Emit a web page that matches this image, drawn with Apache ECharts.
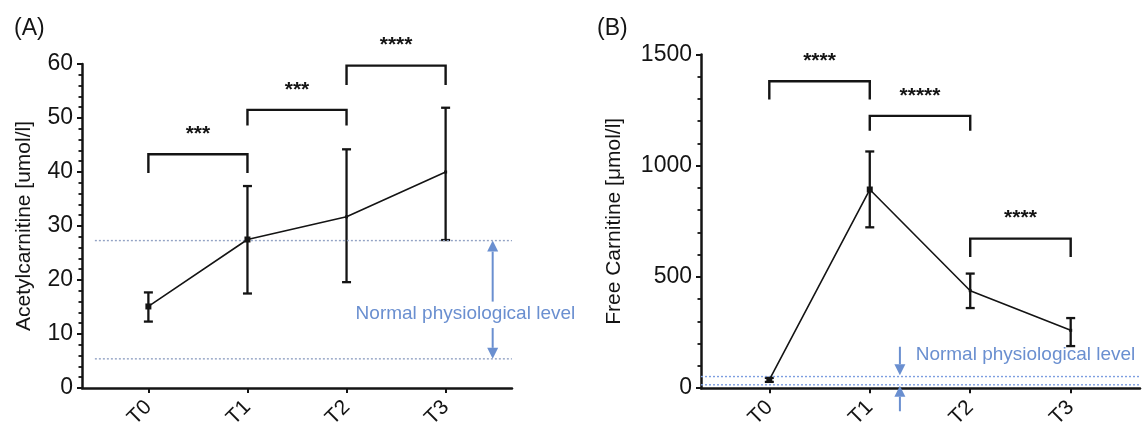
<!DOCTYPE html>
<html>
<head>
<meta charset="utf-8">
<script src="https://cdn.jsdelivr.net/npm/echarts@6/dist/echarts.min.js"></script>
<style>
html,body{margin:0;padding:0;background:#fff;}
#chart{width:1145px;height:431px;}
</style>
</head>
<body>
<div id="chart"></div>
<script>
// ---------- data ----------
const categories = ['T0', 'T1', 'T2', 'T3'];
const catIndex = [0, 1, 2, 3];

const acetylMean = [15.1, 27.5, 31.7, 40.0];
const acetylLow  = [12.3, 17.5, 19.6, 27.4];
const acetylHigh = [17.7, 37.4, 44.2, 51.9];
const acetylNormal = [5.4, 27.3];
const acetylTicks = [0, 10, 20, 30, 40, 50, 60];

const freeMean = [37, 893, 438, 260];
const freeLow  = [28, 723, 360, 189];
const freeHigh = [46, 1064, 515, 315];
const freeNormal = [15, 52];
const freeTicks = [0, 500, 1000, 1500];

// significance brackets: [from, to, top, leg end]
const acetylBrackets = [[0, 1, 43.3, 39.8], [1, 2, 51.5, 48.6], [2, 3, 59.7, 56.1]];
const acetylStars = ['***', '***', '****'];
const freeBrackets = [[0, 1, 1380, 1298], [1, 2, 1224, 1157], [2, 3, 672, 589]];
const freeStars = ['****', '*****', '****'];

const normalLabel = 'Normal physiological level';

// ---------- styles ----------
const FONT = '"Liberation Sans", Arial, Helvetica, sans-serif';
const INK = '#141414';
const BLUE = '#6a8fd0';

const chart = echarts.init(document.getElementById('chart'), null, {renderer: 'canvas'});

function meanData(arr) { return arr.map((v, i) => [catIndex[i], v]); }
function errData(lo, hi) { return lo.map((v, i) => [catIndex[i], v, hi[i]]); }

function errorRender(params, api) {
  const x = api.value(0);
  const a = api.coord([x, api.value(1)]);
  const b = api.coord([x, api.value(2)]);
  const cap = 4.5;
  const st = {stroke: INK, lineWidth: 2.3};
  return {type: 'group', children: [
    {type: 'line', shape: {x1: a[0], y1: a[1], x2: b[0], y2: b[1]}, style: st},
    {type: 'line', shape: {x1: a[0] - cap, y1: a[1], x2: a[0] + cap, y2: a[1]}, style: st},
    {type: 'line', shape: {x1: b[0] - cap, y1: b[1], x2: b[0] + cap, y2: b[1]}, style: st}
  ]};
}

function bracketRender(stars) {
  return function (params, api) {
    const x1 = api.value(0), x2 = api.value(1), top = api.value(2), leg = api.value(3);
    const p1 = api.coord([x1, leg]), p2 = api.coord([x1, top]);
    const p3 = api.coord([x2, top]), p4 = api.coord([x2, leg]);
    return {type: 'group', children: [
      {type: 'polyline', shape: {points: [p1, p2, p3, p4]},
        style: {stroke: INK, lineWidth: 2.4, fill: null}},
      {type: 'text', x: (p2[0] + p3[0]) / 2, y: p2[1] - 20,
        style: {text: stars[params.dataIndex], fill: INK, font: 'bold 21px ' + FONT,
          align: 'center', verticalAlign: 'middle'}}
    ]};
  };
}

function arrowRender(params, api) {
  const x = api.value(0);
  const a = api.coord([x, api.value(1)]);
  const b = api.coord([x, api.value(2)]);
  const dir = b[1] < a[1] ? -1 : 1;
  const hl = 11, hw = 5.5;
  return {type: 'group', children: [
    {type: 'line', shape: {x1: a[0], y1: a[1], x2: b[0], y2: b[1] - dir * hl},
      style: {stroke: BLUE, lineWidth: 2}},
    {type: 'polygon', shape: {points: [[b[0], b[1]], [b[0] - hw, b[1] - dir * hl], [b[0] + hw, b[1] - dir * hl]]},
      style: {fill: BLUE}}
  ]};
}

function textRender(align) {
  return function (params, api) {
    const p = api.coord([api.value(0), api.value(1)]);
    return {type: 'text', x: p[0], y: p[1],
      style: {text: normalLabel, fill: BLUE, font: '19px ' + FONT, align: align, verticalAlign: 'middle'}};
  };
}

function xAxisCfg(gridIndex, min, max) {
  return {
    type: 'value', gridIndex, min, max,
    axisLine: {show: true, onZero: false, lineStyle: {color: INK, width: 2.5}},
    axisTick: {show: true, customValues: catIndex, length: 5, lineStyle: {color: INK, width: 2}},
    axisLabel: {show: true, customValues: catIndex, rotate: 45, margin: 16,
      fontSize: 21, fontFamily: FONT, color: INK,
      formatter: v => categories[Math.round(v)]},
    splitLine: {show: false}
  };
}

function yAxisCfg(gridIndex, max, interval, name, nameGap) {
  return {
    type: 'value', gridIndex, min: 0, max, interval,
    name, nameLocation: 'middle', nameGap, nameRotate: 90,
    nameTextStyle: {fontSize: 21, fontFamily: FONT, color: INK},
    axisLine: {show: true, onZero: false, lineStyle: {color: INK, width: 2.5}},
    axisTick: {show: true, length: 5, lineStyle: {color: INK, width: 2}},
    minorTick: {show: true, splitNumber: 5, length: 3.5, lineStyle: {color: INK, width: 1.8}},
    axisLabel: {fontSize: 23, fontFamily: FONT, color: INK, margin: 9, formatter: v => String(v)},
    splitLine: {show: false}
  };
}

const A = {xMin: -0.67, xMax: 3.67};
const B = {xMin: -0.68, xMax: 3.69};

const option = {
  animation: false,
  backgroundColor: '#fff',
  title: [
    {text: '(A)', left: 9, top: 12, textStyle: {fontSize: 23, fontWeight: 'normal', fontFamily: FONT, color: INK}},
    {text: '(B)', left: 592, top: 12, textStyle: {fontSize: 23, fontWeight: 'normal', fontFamily: FONT, color: INK}}
  ],
  grid: [
    {left: 82, top: 64, width: 430, height: 324},
    {left: 701, top: 54.5, width: 439, height: 337}
  ],
  xAxis: [xAxisCfg(0, A.xMin, A.xMax), xAxisCfg(1, B.xMin, B.xMax)],
  yAxis: [
    yAxisCfg(0, 60, 10, 'Acetylcarnitine [umol/l]', 47),
    yAxisCfg(1, 1500, 500, 'Free Carnitine [\u03bcmol/l]', 76)
  ],
  series: [
    // reference (normal level) lines
    ...acetylNormal.map(v => ({
      type: 'line', xAxisIndex: 0, yAxisIndex: 0, symbol: 'none', silent: true,
      data: [[-0.54, v], [A.xMax, v]],
      lineStyle: {color: '#93a3c4', width: 1.4, type: [2, 2]}
    })),
    ...freeNormal.map(v => ({
      type: 'line', xAxisIndex: 1, yAxisIndex: 1, symbol: 'none', silent: true,
      data: [[B.xMin, v], [B.xMax, v]],
      lineStyle: {color: '#7d9ee0', width: 1.4, type: [2, 2]}
    })),
    // error bars
    {type: 'custom', xAxisIndex: 0, yAxisIndex: 0, renderItem: errorRender,
      encode: {x: 0, y: [1, 2]}, data: errData(acetylLow, acetylHigh), z: 3},
    {type: 'custom', xAxisIndex: 1, yAxisIndex: 1, renderItem: errorRender,
      encode: {x: 0, y: [1, 2]}, data: errData(freeLow, freeHigh), z: 3},
    // mean lines
    {type: 'line', xAxisIndex: 0, yAxisIndex: 0, data: meanData(acetylMean),
      symbol: 'rect', symbolSize: (v, p) => (p.dataIndex < 2 ? 6 : 3),
      itemStyle: {color: INK}, lineStyle: {color: INK, width: 1.6}, z: 4},
    {type: 'line', xAxisIndex: 1, yAxisIndex: 1, data: meanData(freeMean),
      symbol: 'rect', symbolSize: (v, p) => (p.dataIndex < 2 ? 6 : 3),
      itemStyle: {color: INK}, lineStyle: {color: INK, width: 1.6}, z: 4},
    // significance brackets
    {type: 'custom', xAxisIndex: 0, yAxisIndex: 0, clip: false,
      renderItem: bracketRender(acetylStars), data: acetylBrackets, encode: {x: [0, 1], y: [2, 3]}},
    {type: 'custom', xAxisIndex: 1, yAxisIndex: 1, clip: false,
      renderItem: bracketRender(freeStars), data: freeBrackets, encode: {x: [0, 1], y: [2, 3]}},
    // arrows for normal range
    {type: 'custom', xAxisIndex: 0, yAxisIndex: 0, clip: false, renderItem: arrowRender,
      encode: {x: 0, y: [1, 2]},
      data: [[3.475, 16.0, acetylNormal[1]], [3.475, 11.1, acetylNormal[0]]]},
    {type: 'custom', xAxisIndex: 1, yAxisIndex: 1, clip: false, renderItem: arrowRender,
      encode: {x: 0, y: [1, 2]},
      data: [[1.3, 186, freeNormal[1] + 6], [1.3, -104, freeNormal[0] - 4]]},
    // labels
    {type: 'custom', xAxisIndex: 0, yAxisIndex: 0, clip: false, renderItem: textRender('center'),
      encode: {x: 0, y: 1}, data: [[3.2, 13.8]]},
    {type: 'custom', xAxisIndex: 1, yAxisIndex: 1, clip: false, renderItem: textRender('left'),
      encode: {x: 0, y: 1}, data: [[1.457, 149]]}
  ]
};
chart.setOption(option);
</script>
</body>
</html>
